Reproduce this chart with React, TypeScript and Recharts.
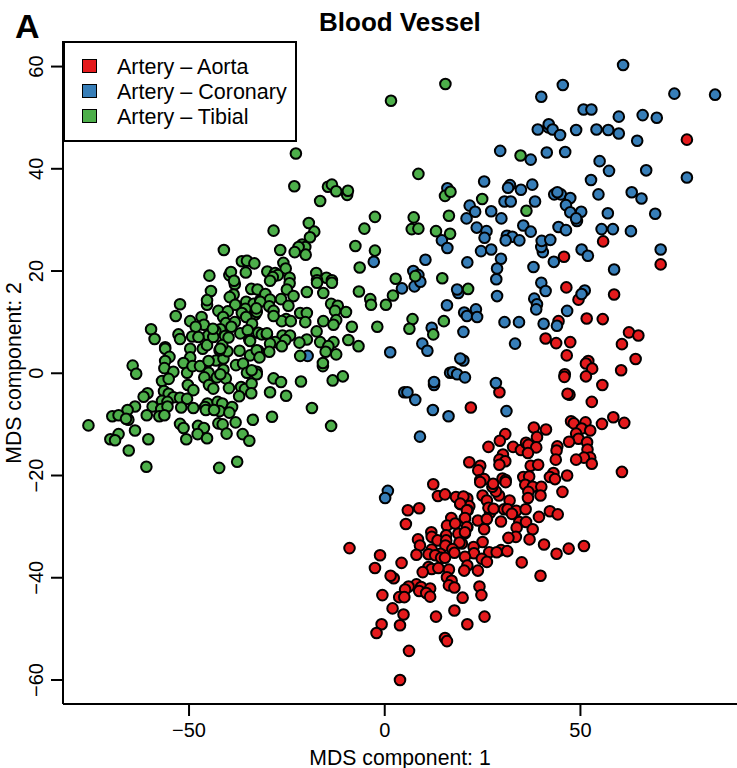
import { ScatterChart, Scatter, XAxis, YAxis, Legend } from "recharts"

const font = "'Liberation Sans', Arial, sans-serif"

const xTicks = [-50, 0, 50]
const yTicks = [-60, -40, -20, 0, 20, 40, 60]
const xDomain = [-82.2, 90]
const yDomain = [-64.7, 65]

const seriesNames = ["Artery \u2013 Aorta", "Artery \u2013 Coronary", "Artery \u2013 Tibial"]
const seriesColors = ["#E41A1C", "#377EB8", "#4DAF4A"]

const aorta: number[][] = [
  [77.2,45.7],[55.8,25.8],[45.8,22.8],[70.5,21.3],[46.4,16.8],[49.5,14.4],[58.6,15.4],[44.4,10.2],[51.6,10.7],[55.7,10.6],
  [62.4,8.0],[64.8,7.4],[60.6,5.7],[64.1,2.8],[41.1,6.8],[43.8,5.9],[47.4,6.1],[46.5,3.5],[52.0,2.4],[51.4,1.9],
  [53.0,0.9],[60.4,0.6],[46.0,-0.2],[45.9,-0.7],[51.4,-0.6],[55.6,-2.3],[47.2,-4.2],[46.7,-4.0],[52.9,-5.6],[29.3,-3.7],
  [22.0,-6.7],[58.4,-8.6],[61.2,-9.7],[55.5,-9.9],[47.6,-9.4],[48.3,-9.8],[51.3,-9.6],[50.3,-10.8],[52.5,-11.2],[48.9,-11.8],
  [49.5,-12.8],[47.1,-13.4],[51.7,-13.5],[51.8,-14.9],[52.5,-16.5],[50.9,-16.5],[48.9,-16.9],[52.9,-17.7],[38.1,-10.6],[41.2,-11.0],
  [30.8,-11.9],[38.9,-12.5],[29.4,-13.2],[26.5,-14.4],[32.8,-14.4],[34.8,-15.0],[36.1,-13.6],[36.7,-14.0],[38.7,-14.5],[36.6,-15.6],
  [44.1,-14.3],[43.9,-15.1],[43.7,-16.9],[30.2,-15.9],[29.3,-16.9],[30.8,-17.2],[29.3,-17.9],[21.6,-17.4],[24.4,-18.1],[23.9,-19.0],
  [37.3,-18.1],[39.2,-17.9],[60.6,-19.3],[46.6,-20.0],[43.1,-19.5],[42.2,-20.3],[43.5,-20.7],[35.4,-20.3],[36.9,-20.2],[30.1,-20.6],
  [30.9,-20.9],[24.4,-20.9],[25.4,-20.7],[35.9,-21.8],[37.8,-22.2],[40.0,-22.2],[45.4,-23.2],[36.7,-23.2],[36.6,-24.4],[39.8,-23.9],
  [31.9,-24.9],[29.2,-23.9],[28.4,-23.1],[27.5,-22.2],[27.7,-21.6],[30.9,-21.3],[24.4,-21.3],[25.0,-23.9],[26.1,-24.9],[20.1,-24.2],
  [21.1,-24.5],[21.6,-26.0],[19.3,-25.6],[21.2,-26.8],[26.9,-27.3],[26.5,-26.3],[27.8,-26.5],[30.5,-26.6],[31.4,-26.6],[33.6,-26.9],
  [36.0,-26.6],[32.5,-27.5],[42.2,-27.0],[44.2,-27.6],[39.4,-28.1],[23.8,-28.8],[26.1,-28.5],[20.5,-28.4],[34.4,-29.1],[36.1,-29.1],
  [29.7,-29.0],[33.7,-30.2],[37.8,-30.5],[25.4,-30.5],[21.1,-30.1],[20.5,-31.3],[37.0,-32.5],[33.5,-32.0],[31.6,-32.2],[40.7,-33.5],
  [43.9,-35.3],[47.0,-34.3],[50.9,-33.8],[35.0,-37.0],[39.8,-39.6],[25.0,-33.0],[22.7,-34.0],[26.7,-35.0],[29.7,-34.6],[31.3,-34.8],
  [28.6,-35.0],[22.8,-35.2],[20.5,-35.9],[24.8,-36.3],[26.1,-36.9],[21.1,-37.6],[23.8,-38.6],[20.3,-38.6],[19.7,-33.3],[24.2,-41.7],
  [24.7,-43.4],[19.9,-43.9],[25.5,-47.6],[12.4,-21.7],[13.6,-24.0],[15.4,-23.7],[18.2,-24.2],[20.1,-24.1],[19.3,-25.5],[21.0,-26.8],
  [8.8,-26.4],[5.9,-26.8],[5.4,-29.5],[17.0,-28.3],[20.5,-28.3],[15.9,-29.8],[18.0,-29.4],[21.0,-30.1],[11.9,-31.1],[12.0,-32.0],
  [15.7,-31.7],[18.8,-31.4],[20.5,-31.1],[8.5,-32.5],[9.0,-33.7],[13.5,-32.7],[15.7,-32.7],[15.5,-33.7],[19.1,-33.1],[17.3,-34.4],
  [17.8,-35.1],[12.0,-34.5],[11.2,-35.4],[-9.0,-34.2],[8.1,-35.5],[14.2,-35.3],[12.9,-35.6],[14.4,-36.1],[15.4,-36.1],[-1.2,-35.6],
  [4.3,-37.1],[-2.5,-38.1],[11.2,-37.9],[12.0,-38.3],[13.7,-38.1],[16.4,-38.4],[9.7,-38.9],[2.3,-40.1],[1.5,-39.6],[15.9,-39.9],
  [17.1,-40.6],[16.4,-41.5],[17.8,-41.9],[8.1,-41.3],[6.1,-41.7],[5.2,-42.3],[9.3,-41.8],[11.6,-42.1],[8.8,-42.6],[10.6,-43.0],
  [11.6,-43.7],[-0.6,-43.4],[3.7,-43.8],[5.0,-43.8],[2.0,-46.0],[4.8,-47.2],[17.8,-46.4],[13.1,-47.6],[21.1,-49.1],[-0.8,-49.1],
  [3.9,-49.3],[-2.1,-50.8],[15.4,-51.8],[15.9,-52.4],[6.2,-54.3],[3.9,-60.0],
]

const coronary: number[][] = [
  [60.9,60.3],[45.5,56.4],[40.0,54.1],[74.0,54.7],[84.4,54.5],[50.8,51.6],[52.8,51.6],[59.8,50.2],[65.9,50.5],[69.5,50.0],
  [39.1,47.7],[41.8,48.1],[41.9,48.7],[42.9,47.7],[44.8,46.6],[48.9,47.6],[54.1,47.7],[57.1,47.6],[59.8,46.9],[64.5,45.5],
  [29.5,43.5],[41.4,43.2],[46.1,43.3],[37.3,41.8],[54.9,41.5],[57.3,39.6],[66.8,39.7],[77.2,38.3],[52.7,37.8],[25.4,37.5],
  [32.0,36.8],[31.5,36.3],[34.8,35.9],[37.7,36.9],[16.0,36.2],[43.3,35.0],[45.0,35.0],[44.1,35.4],[47.4,34.3],[54.6,35.0],
  [63.1,35.4],[65.6,34.2],[30.6,33.6],[32.2,33.6],[38.4,33.6],[21.7,32.8],[23.1,31.6],[27.2,31.7],[46.3,32.9],[47.4,31.5],
  [50.2,31.6],[20.9,30.3],[29.8,30.3],[49.1,29.8],[48.9,30.3],[57.0,31.3],[69.1,31.2],[23.5,28.5],[35.4,28.9],[44.4,28.6],
  [46.3,28.0],[55.4,28.2],[58.3,28.2],[62.9,27.8],[26.0,27.8],[37.3,27.7],[25.5,26.5],[31.2,26.9],[32.6,26.7],[30.9,26.0],
  [34.4,26.0],[40.4,23.7],[40.0,24.7],[40.1,25.9],[42.3,26.1],[14.6,26.0],[16.0,24.5],[24.6,23.9],[27.2,24.2],[50.3,24.2],
  [51.9,23.0],[70.5,24.2],[29.7,22.4],[21.1,21.7],[28.7,20.5],[38.0,20.8],[43.2,21.8],[58.6,20.3],[28.5,18.4],[40.0,17.7],
  [41.1,16.1],[51.1,16.2],[50.3,15.5],[18.8,15.7],[18.5,16.4],[10.4,22.2],[-2.8,21.8],[7.3,20.0],[8.6,19.2],[4.4,16.6],
  [7.6,17.0],[9.1,17.9],[15.9,13.3],[12.0,8.9],[9.6,5.8],[10.9,4.4],[1.4,4.1],[-19.7,3.4],[12.6,-2.3],[12.6,-1.7],
  [5.0,-3.7],[5.8,-3.7],[7.8,-5.2],[12.3,-7.2],[16.3,-8.4],[9.0,-12.4],[16.7,0.1],[28.7,15.1],[38.2,14.6],[38.9,13.5],
  [38.7,12.5],[20.3,11.9],[21.0,11.2],[23.3,12.5],[23.6,11.0],[20.1,8.1],[30.6,10.0],[34.3,10.0],[40.6,9.7],[46.6,12.2],
  [44.0,9.3],[33.3,5.8],[20.1,2.5],[19.3,2.9],[17.4,0.2],[18.5,-0.2],[20.5,-0.8],[28.4,-1.9],[31.1,-7.4],[0.8,-23.0],[0.1,-24.4],
]

const tibial: number[][] = [
  [-41.1,24.1],[-36.5,21.9],[-35.2,22.0],[-33.3,21.5],[-44.8,19.1],[-39.7,19.2],[-39.3,19.8],[-35.5,19.7],[-38.3,17.4],[-38.5,18.1],
  [-34.1,16.5],[-32.5,16.4],[-44.4,16.1],[-38.6,15.4],[-39.6,14.9],[-45.4,13.4],[-45.4,14.3],[-52.3,13.5],[-38.2,13.4],[-35.4,14.0],
  [-33.5,13.6],[-31.8,14.3],[-35.6,12.6],[-53.4,11.2],[-42.5,12.2],[-40.1,12.1],[-36.5,11.8],[-33.1,11.5],[-35.4,11.0],[-46.8,11.0],
  [-49.7,10.2],[-41.3,11.0],[-40.6,9.8],[-38.3,10.0],[-46.2,9.5],[-48.3,9.1],[-33.9,9.7],[-59.7,8.6],[-58.8,6.7],[-52.7,7.6],
  [-52.3,6.7],[-49.2,7.2],[-45.1,7.4],[-42.0,8.6],[-43.3,8.3],[-40.8,7.3],[-36.9,7.8],[-35.0,8.4],[-32.3,7.9],[-34.6,6.5],
  [-56.1,5.1],[-56.1,4.8],[-55.0,3.2],[-49.7,4.8],[-46.5,4.8],[-49.7,3.1],[-56.1,2.4],[-51.4,2.0],[-64.4,1.5],[-63.5,-0.1],
  [-56.3,1.0],[-54.0,0.3],[-50.5,0.1],[-49.1,1.4],[-47.2,1.4],[-43.1,2.5],[-45.0,2.4],[-41.2,2.9],[-40.2,4.3],[-42.2,4.5],
  [-37.1,4.4],[-34.4,3.5],[-32.3,4.4],[-38.0,1.6],[-36.2,1.9],[-34.4,6.3],[-41.5,5.5],[-45.4,5.5],[-47.6,7.1],[-43.8,7.1],
  [-39.9,7.0],[-32.7,0.3],[-35.2,0.1],[-41.2,0.7],[-45.0,0.1],[-56.9,-1.5],[-55.2,-1.1],[-46.1,-0.8],[-42.9,-0.8],[-40.6,-1.0],
  [-42.0,-0.2],[-50.3,-2.3],[-48.9,-3.3],[-44.9,-2.3],[-43.8,-3.0],[-39.8,-2.9],[-36.7,-2.7],[-35.7,-3.1],[-34.0,-2.0],[-34.1,-3.9],
  [-37.2,-4.5],[-60.6,-3.9],[-61.6,-4.6],[-56.4,-3.5],[-55.2,-4.0],[-54.0,-4.7],[-52.3,-4.8],[-50.5,-5.0],[-56.9,-5.4],[-55.5,-5.6],
  [-63.8,-6.5],[-59.3,-6.5],[-57.1,-7.0],[-55.5,-6.5],[-52.0,-6.7],[-48.9,-6.8],[-65.7,-7.2],[-69.6,-8.4],[-68.0,-8.2],[-65.5,-9.1],
  [-66.1,-8.9],[-60.8,-8.2],[-57.6,-8.4],[-56.3,-8.2],[-45.3,-5.9],[-45.9,-6.6],[-45.7,-7.2],[-42.7,-5.6],[-41.5,-5.9],[-42.2,-7.4],
  [-43.6,-7.2],[-39.0,-6.6],[-39.7,-7.7],[-75.7,-10.2],[-52.3,-9.9],[-51.4,-10.7],[-47.7,-10.3],[-46.2,-10.7],[-42.5,-9.8],[-41.4,-10.0],
  [-38.1,-9.6],[-33.7,-9.1],[-63.8,-11.2],[-68.0,-11.9],[-70.1,-12.9],[-68.9,-13.1],[-60.4,-12.9],[-50.7,-12.9],[-47.8,-11.9],[-45.4,-12.7],
  [-40.4,-11.8],[-36.3,-11.9],[-34.6,-13.2],[-65.4,-15.1],[-60.9,-18.3],[-42.3,-18.5],[-37.7,-17.3],[1.6,53.3],[15.5,56.6],[-22.7,43.0],
  [-23.1,36.6],[8.6,39.0],[-14.5,36.5],[-13.5,36.9],[-12.4,35.6],[-9.6,34.9],[-9.4,35.7],[15.4,34.7],[-16.5,33.7],[-2.5,30.6],
  [7.4,30.5],[16.4,30.8],[-19.4,29.4],[-5.2,28.3],[6.9,28.2],[8.6,28.3],[13.1,27.8],[16.7,27.3],[-28.4,27.9],[-18.0,27.7],
  [-19.1,26.6],[-21.1,25.2],[-20.3,24.7],[-22.0,24.7],[-23.0,23.7],[-20.2,23.2],[-26.7,24.1],[-7.5,24.9],[-2.5,24.0],[-6.4,20.7],
  [2.8,18.5],[-25.9,21.6],[-25.3,20.5],[-30.0,19.9],[-28.0,19.6],[-27.3,19.2],[-28.6,18.8],[-24.3,18.7],[-17.5,19.6],[-14.9,18.7],
  [-13.5,18.2],[7.8,19.0],[14.7,18.6],[-17.3,18.2],[-24.3,17.6],[-29.3,18.1],[-25.0,16.4],[-17.3,17.7],[-13.5,17.7],[-30.5,15.5],
  [-29.3,14.4],[-23.3,15.1],[-26.5,14.5],[-19.9,15.9],[-15.7,15.7],[-6.6,16.0],[-3.7,14.5],[-3.5,13.4],[2.1,15.2],[0.3,13.4],
  [-31.8,14.0],[-29.5,13.1],[-24.6,13.2],[-28.4,12.2],[-13.7,13.6],[-12.0,13.2],[-12.7,12.2],[-9.9,12.0],[-21.6,11.8],[-19.9,11.8],
  [-32.7,12.0],[-32.8,12.7],[-25.2,10.6],[-26.3,10.2],[-24.0,10.2],[-20.3,10.0],[-15.7,10.2],[-12.4,10.4],[-13.1,9.5],[-8.4,9.1],
  [-1.9,9.1],[7.1,10.6],[6.3,8.7],[15.1,10.2],[12.4,7.6],[-31.4,7.6],[-30.1,7.6],[-26.1,7.4],[-24.2,7.4],[-17.4,8.2],
  [-19.9,6.6],[-21.8,6.0],[-16.5,6.1],[-13.1,6.1],[-14.4,5.3],[-9.3,6.5],[-6.7,5.3],[-25.4,6.5],[-28.0,6.1],[-26.3,5.3],
  [-29.3,5.8],[-29.5,4.2],[-32.7,4.5],[-32.0,3.1],[-21.6,3.4],[-15.1,4.2],[-12.4,3.7],[-15.8,1.4],[-15.8,2.0],[-32.7,-0.2],
  [-34.0,0.6],[-28.4,-1.0],[-26.5,-1.7],[-21.4,-1.6],[-13.3,-1.4],[-10.7,-0.6],[-29.3,-3.7],[-25.2,-4.4],[-18.6,-6.8],[-28.8,-8.5],
  [-13.7,-10.3],[34.7,42.6],[16.8,35.5],[24.9,34.1],[36.2,31.8],[21.3,16.5],[-39.2,9.1],[-43.9,8.7],[-42.0,4.8],[-28.4,11.2],[-30.1,7.8],
]

function toRows(points: number[][]) {
  return points.map(([x, y]) => ({ x, y }))
}

function Dot(props: any) {
  const { cx, cy, fill } = props
  return <circle cx={cx} cy={cy} r={5.3} fill={fill} stroke="#000" strokeWidth={2} />
}

function YTick(props: any) {
  const { x, y, payload } = props
  const label = String(payload.value).replace("-", "\u2212")
  return (
    <text x={x - 6} y={y} transform={`rotate(-90 ${x - 6} ${y})`} textAnchor="middle" fontSize={20} fontFamily={font} fill="#000">
      {label}
    </text>
  )
}

function YTitle() {
  return (
    <text x={21} y={373} transform="rotate(-90 21 373)" textAnchor="middle" fontSize={21.2} fontFamily={font} fill="#000">
      MDS component: 2
    </text>
  )
}

function BoxLegend() {
  return (
    <div style={{ width: 234, height: 101, boxSizing: "border-box", border: "2px solid #000", background: "#fff", fontFamily: font, fontSize: 21.5, position: "relative" }}>
      {seriesNames.map((name, i) => (
        <div key={name} style={{ position: "absolute", left: 0, top: 12 + i * 25, height: 25, lineHeight: "25px", whiteSpace: "nowrap", color: "#000" }}>
          <span style={{ position: "absolute", left: 17, top: 4, width: 13, height: 12, background: seriesColors[i], border: "1.5px solid #000" }} />
          <span style={{ position: "absolute", left: 52, top: 0 }}>{name}</span>
        </div>
      ))}
    </div>
  )
}

export default function App() {
  const tick = { fontSize: 20, fontFamily: font, fill: "#000" }
  const line = { stroke: "#000", strokeWidth: 2 }
  return (
    <div style={{ position: "absolute", left: 0, top: 0, width: 737, height: 768, overflow: "hidden", background: "#fff" }}>
      <div style={{ position: "absolute", left: 15, top: 6, fontFamily: font, fontWeight: 700, fontSize: 34, lineHeight: "40px" }}>A</div>
      <div style={{ position: "absolute", left: 319, top: 7, fontFamily: font, fontWeight: 700, fontSize: 26, lineHeight: "30px", whiteSpace: "nowrap" }}>Blood Vessel</div>
      <ScatterChart width={737} height={768} margin={{ top: 41, right: 0, bottom: 0, left: 0 }}>
        <XAxis
          type="number"
          dataKey="x"
          domain={xDomain}
          ticks={xTicks}
          allowDataOverflow
          height={64}
          tickSize={12}
          tickMargin={7}
          tick={tick}
          tickFormatter={(v: number) => String(v).replace("-", "\u2212")}
          axisLine={line}
          tickLine={line}
          label={{ value: "MDS component: 1", position: "insideBottom", offset: 3, fontSize: 21.2, fontFamily: font, fill: "#000" }}
        />
        <XAxis xAxisId="top" orientation="top" type="number" dataKey="x" domain={xDomain} height={0} tick={false} tickLine={false} axisLine={line} />
        <YAxis
          type="number"
          dataKey="y"
          domain={yDomain}
          ticks={yTicks}
          allowDataOverflow
          width={63}
          tickSize={12}
          tick={<YTick />}
          axisLine={line}
          tickLine={line}
          label={<YTitle />}
        />
        <Legend layout="vertical" align="center" verticalAlign="middle" content={<BoxLegend />} wrapperStyle={{ left: 63, top: 41, width: 234, height: 101 }} />
        <Scatter name={seriesNames[0]} data={toRows(aorta)} fill={seriesColors[0]} shape={<Dot />} isAnimationActive={false} />
        <Scatter name={seriesNames[1]} data={toRows(coronary)} fill={seriesColors[1]} shape={<Dot />} isAnimationActive={false} />
        <Scatter name={seriesNames[2]} data={toRows(tibial)} fill={seriesColors[2]} shape={<Dot />} isAnimationActive={false} />
      </ScatterChart>
    </div>
  )
}
